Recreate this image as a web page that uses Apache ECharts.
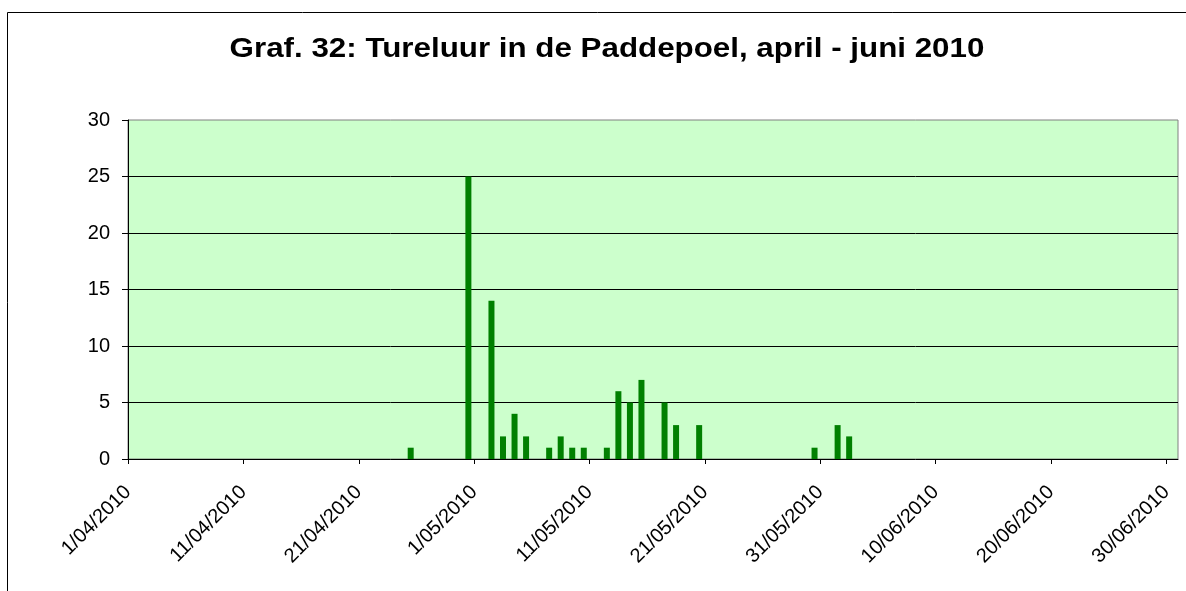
<!DOCTYPE html>
<html>
<head>
<meta charset="utf-8">
<script src="https://cdn.jsdelivr.net/npm/echarts@6/dist/echarts.min.js"></script>
<style>
  html, body { margin: 0; padding: 0; background: #fff; }
  #chart { width: 1186px; height: 591px; }
</style>
</head>
<body>
<div id="chart"></div>
<script>
// counts per date
var dates = ['2010-04-25', '2010-04-30', '2010-05-02', '2010-05-03', '2010-05-04', '2010-05-05',
             '2010-05-07', '2010-05-08', '2010-05-09', '2010-05-10', '2010-05-12', '2010-05-13',
             '2010-05-14', '2010-05-15', '2010-05-17', '2010-05-18', '2010-05-20', '2010-05-30',
             '2010-06-01', '2010-06-02'];
var counts = [1, 25, 14, 2, 4, 2,
              1, 2, 1, 1, 1, 6,
              5, 7, 5, 3, 3, 1,
              3, 2];
var tickDays = [0, 10, 20, 30, 40, 50, 60, 70, 80, 90]; // 1/04 .. 30/06
var yTicks = [0, 5, 10, 15, 20, 25, 30];

var DAY = 86400000;
var start = Date.UTC(2010, 3, 1);

function pad(n) { return n < 10 ? '0' + n : '' + n; }
function dayLabel(v) {
    var d = new Date(start + v * DAY);
    return d.getUTCDate() + '/' + pad(d.getUTCMonth() + 1) + '/' + d.getUTCFullYear();
}

// each date sits in the middle of its one-day slot
var barData = dates.map(function (s, i) {
    return [(Date.parse(s) - start) / DAY + 0.5, counts[i]];
});

var font = 'Arial, "Liberation Sans", sans-serif';
var chart = echarts.init(document.getElementById('chart'));

var option = {
    animation: false,
    backgroundColor: '#fff',
    graphic: [{
        type: 'rect',
        shape: { x: 7.5, y: 12.5, width: 1200, height: 600 },
        style: { fill: 'none', stroke: '#000', lineWidth: 1 },
        z: -1
    }, {
        // title, stretched a bit like the spread-out Excel text
        type: 'text',
        x: 607, y: 50,
        scaleX: 1.16,
        style: {
            text: 'Graf. 32: Tureluur in de Paddepoel, april - juni 2010',
            font: 'bold 27px ' + font,
            fill: '#000',
            textAlign: 'center',
            textVerticalAlign: 'middle'
        }
    }],
    grid: {
        left: 128, top: 120, right: 8, bottom: 132,
        show: true, backgroundColor: '#CCFFCC',
        borderColor: '#808080', borderWidth: 1
    },
    xAxis: {
        type: 'value',
        min: 0, max: 91,
        axisLine: { lineStyle: { color: '#000', width: 1 } },
        axisTick: { show: true, length: 5, customValues: tickDays, lineStyle: { color: '#000' } },
        splitLine: { show: false },
        axisLabel: {
            customValues: tickDays,
            rotate: 45, margin: 30,
            fontFamily: font, fontSize: 20, color: '#000',
            formatter: function (v) { return dayLabel(v); }
        }
    },
    yAxis: {
        type: 'value',
        min: 0, max: 30, interval: 5,
        axisLine: { show: true, lineStyle: { color: '#000', width: 1 } },
        axisTick: { show: true, length: 6, lineStyle: { color: '#000' } },
        splitLine: { show: true, showMinLine: false, showMaxLine: false, lineStyle: { color: '#000', width: 1 } },
        axisLabel: { margin: 18, fontFamily: font, fontSize: 20, color: '#000' }
    },
    series: [{
        type: 'bar',
        data: barData,
        barWidth: 6,
        itemStyle: { color: '#008000' }
    }]
};
chart.setOption(option);
</script>
</body>
</html>
